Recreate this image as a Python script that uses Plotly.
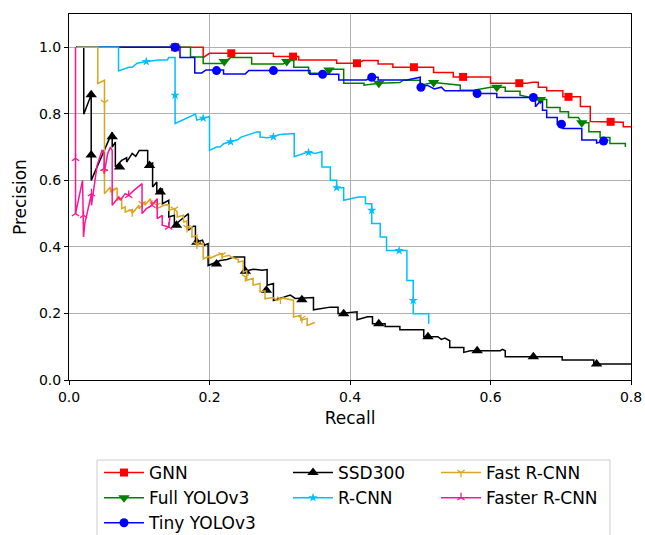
import plotly.graph_objects as go

# ---------------- data (recall, precision) ----------------
names = ["GNN", "Full YOLOv3", "Tiny YOLOv3", "SSD300", "R-CNN", "Fast R-CNN", "Faster R-CNN"]
colors = ["#ff0000", "#008000", "#0000ff", "#000000", "#00bfff", "#daa520", "#ff1493"]
symbols = ["square", "triangle-down", "circle", "triangle-up", "star", "y-down", "y-up"]

gnn_recall = [0.010, 0.191, 0.191, 0.200, 0.291, 0.291, 0.327, 0.327, 0.381, 0.381,
              0.410, 0.419, 0.440, 0.440, 0.461, 0.461, 0.519, 0.519, 0.547, 0.547,
              0.600, 0.600, 0.652, 0.660, 0.668, 0.668, 0.680, 0.680, 0.703, 0.703,
              0.728, 0.728, 0.742, 0.742, 0.789, 0.789, 0.800]
gnn_precision = [1.000, 1.000, 0.969, 0.982, 0.982, 0.972, 0.972, 0.962, 0.962, 0.952,
                 0.952, 0.960, 0.960, 0.950, 0.950, 0.940, 0.940, 0.924, 0.924, 0.911,
                 0.911, 0.892, 0.892, 0.895, 0.895, 0.880, 0.880, 0.869, 0.869, 0.851,
                 0.851, 0.822, 0.822, 0.777, 0.775, 0.761, 0.761]
gnn_mark_recall = [0.151, 0.231, 0.319, 0.410, 0.491, 0.561, 0.641, 0.711, 0.771]
gnn_mark_precision = [1.000, 0.982, 0.972, 0.952, 0.940, 0.911, 0.892, 0.851, 0.776]

yolo_recall = [0.010, 0.173, 0.173, 0.191, 0.191, 0.218, 0.230, 0.260, 0.260, 0.305,
               0.312, 0.320, 0.320, 0.341, 0.341, 0.367, 0.372, 0.391, 0.391, 0.420,
               0.420, 0.441, 0.471, 0.476, 0.500, 0.500, 0.519, 0.557, 0.557, 0.576,
               0.600, 0.621, 0.621, 0.642, 0.642, 0.671, 0.680, 0.680, 0.699, 0.699,
               0.711, 0.711, 0.725, 0.730, 0.740, 0.740, 0.756, 0.756, 0.770, 0.770,
               0.792, 0.792]
yolo_precision = [1.000, 1.000, 0.971, 0.971, 0.951, 0.951, 0.969, 0.969, 0.950, 0.950,
                  0.960, 0.960, 0.940, 0.940, 0.922, 0.922, 0.934, 0.934, 0.892, 0.892,
                  0.886, 0.892, 0.894, 0.901, 0.901, 0.886, 0.894, 0.886, 0.871, 0.871,
                  0.880, 0.880, 0.868, 0.868, 0.856, 0.843, 0.843, 0.819, 0.819, 0.806,
                  0.806, 0.789, 0.789, 0.773, 0.773, 0.746, 0.746, 0.729, 0.729, 0.711,
                  0.711, 0.700]
yolo_mark_recall = [0.151, 0.221, 0.310, 0.370, 0.441, 0.519, 0.609, 0.671, 0.730]
yolo_mark_precision = [1.000, 0.957, 0.957, 0.932, 0.892, 0.894, 0.880, 0.843, 0.773]

tiny_recall = [0.010, 0.158, 0.158, 0.179, 0.179, 0.189, 0.195, 0.220, 0.220, 0.251,
               0.256, 0.343, 0.343, 0.384, 0.384, 0.423, 0.431, 0.440, 0.440, 0.481,
               0.500, 0.500, 0.510, 0.520, 0.530, 0.535, 0.576, 0.576, 0.609, 0.609,
               0.664, 0.664, 0.670, 0.674, 0.674, 0.680, 0.680, 0.695, 0.695, 0.703,
               0.703, 0.730, 0.730, 0.751, 0.751, 0.768]
tiny_precision = [1.000, 1.000, 0.969, 0.969, 0.923, 0.923, 0.932, 0.932, 0.920, 0.920,
                  0.930, 0.930, 0.919, 0.919, 0.902, 0.902, 0.910, 0.910, 0.902, 0.902,
                  0.910, 0.880, 0.886, 0.875, 0.880, 0.869, 0.869, 0.861, 0.861, 0.849,
                  0.849, 0.821, 0.836, 0.836, 0.811, 0.811, 0.789, 0.789, 0.769, 0.769,
                  0.756, 0.756, 0.721, 0.721, 0.712, 0.721]
tiny_mark_recall = [0.151, 0.210, 0.291, 0.361, 0.431, 0.501, 0.581, 0.661, 0.701, 0.761]
tiny_mark_precision = [1.000, 0.930, 0.930, 0.919, 0.910, 0.880, 0.861, 0.849, 0.769, 0.718]

ssd_recall = [0.010, 0.021, 0.021, 0.0316, 0.0316, 0.0615, 0.0615, 0.066, 0.066, 0.075,
              0.082, 0.082, 0.090, 0.095, 0.100, 0.112, 0.112, 0.119, 0.119, 0.125,
              0.125, 0.133, 0.133, 0.142, 0.142, 0.150, 0.150, 0.158, 0.170, 0.170,
              0.177, 0.180, 0.180, 0.190, 0.193, 0.198, 0.198, 0.215, 0.225, 0.235,
              0.250, 0.250, 0.262, 0.275, 0.282, 0.282, 0.291, 0.291, 0.315, 0.322,
              0.332, 0.348, 0.348, 0.372, 0.383, 0.383, 0.410, 0.410, 0.425, 0.432,
              0.432, 0.450, 0.450, 0.471, 0.471, 0.505, 0.505, 0.525, 0.530, 0.535,
              0.542, 0.542, 0.562, 0.562, 0.571, 0.614, 0.617, 0.621, 0.621, 0.702,
              0.702, 0.747, 0.747, 0.800]
ssd_precision = [1.000, 1.000, 0.799, 0.857, 0.600, 0.745, 0.700, 0.715, 0.640, 0.660,
                 0.668, 0.655, 0.681, 0.672, 0.690, 0.690, 0.645, 0.652, 0.580, 0.595,
                 0.565, 0.575, 0.530, 0.540, 0.490, 0.495, 0.465, 0.478, 0.500, 0.450,
                 0.462, 0.462, 0.414, 0.420, 0.405, 0.410, 0.344, 0.359, 0.362, 0.370,
                 0.370, 0.327, 0.333, 0.330, 0.332, 0.285, 0.290, 0.239, 0.255, 0.245,
                 0.246, 0.248, 0.211, 0.219, 0.219, 0.199, 0.205, 0.181, 0.190, 0.190,
                 0.169, 0.169, 0.161, 0.161, 0.151, 0.151, 0.130, 0.130, 0.122, 0.126,
                 0.118, 0.098, 0.098, 0.083, 0.088, 0.088, 0.092, 0.088, 0.070, 0.070,
                 0.060, 0.060, 0.048, 0.048]
ssd_mark_recall = [0.0316, 0.0316, 0.0615, 0.072, 0.1146, 0.130, 0.153, 0.182, 0.210,
                   0.251, 0.281, 0.3315, 0.391, 0.441, 0.511, 0.581, 0.661, 0.751]
ssd_mark_precision = [0.857, 0.676, 0.731, 0.640, 0.645, 0.565, 0.465, 0.414, 0.349,
                      0.327, 0.270, 0.241, 0.199, 0.169, 0.130, 0.088, 0.070, 0.048]

rcnn_recall = [0.010, 0.0705, 0.0705, 0.085, 0.090, 0.097, 0.110, 0.128, 0.140, 0.142,
               0.151, 0.151, 0.180, 0.182, 0.200, 0.200, 0.210, 0.215, 0.220, 0.230,
               0.240, 0.245, 0.255, 0.267, 0.272, 0.272, 0.282, 0.291, 0.300, 0.3206,
               0.3206, 0.341, 0.350, 0.360, 0.360, 0.372, 0.372, 0.381, 0.381, 0.391,
               0.391, 0.412, 0.422, 0.422, 0.431, 0.431, 0.443, 0.443, 0.452, 0.452,
               0.481, 0.481, 0.490, 0.490, 0.512, 0.512]
rcnn_precision = [1.000, 1.000, 0.929, 0.940, 0.940, 0.952, 0.957, 0.962, 0.962, 0.969,
                  0.969, 0.771, 0.799, 0.781, 0.792, 0.690, 0.700, 0.700, 0.710, 0.716,
                  0.722, 0.730, 0.736, 0.745, 0.745, 0.730, 0.728, 0.731, 0.738, 0.741,
                  0.671, 0.686, 0.681, 0.686, 0.640, 0.640, 0.600, 0.600, 0.578, 0.578,
                  0.540, 0.550, 0.550, 0.530, 0.530, 0.470, 0.470, 0.430, 0.430, 0.389,
                  0.389, 0.299, 0.299, 0.199, 0.199, 0.169]
rcnn_mark_recall = [0.110, 0.151, 0.191, 0.230, 0.291, 0.341, 0.381, 0.431, 0.470, 0.490]
rcnn_mark_precision = [0.957, 0.856, 0.787, 0.716, 0.731, 0.684, 0.578, 0.510, 0.389, 0.239]

fast_recall = [0.0117, 0.041, 0.041, 0.0497, 0.0505, 0.0505, 0.059, 0.059, 0.0686, 0.0686,
               0.075, 0.075, 0.080, 0.080, 0.090, 0.090, 0.0995, 0.0995, 0.108, 0.108,
               0.116, 0.116, 0.125, 0.125, 0.135, 0.142, 0.142, 0.150, 0.154, 0.154,
               0.163, 0.163, 0.168, 0.168, 0.175, 0.175, 0.182, 0.182, 0.191, 0.191,
               0.200, 0.200, 0.210, 0.218, 0.218, 0.228, 0.232, 0.241, 0.241, 0.248,
               0.248, 0.253, 0.253, 0.262, 0.262, 0.272, 0.272, 0.279, 0.279, 0.290,
               0.296, 0.305, 0.310, 0.316, 0.3196, 0.3196, 0.330, 0.330, 0.339, 0.339,
               0.350]
fast_precision = [1.000, 1.000, 0.891, 0.901, 0.901, 0.560, 0.580, 0.565, 0.577, 0.540,
                  0.548, 0.515, 0.520, 0.505, 0.512, 0.500, 0.525, 0.515, 0.535, 0.525,
                  0.545, 0.530, 0.535, 0.515, 0.525, 0.527, 0.510, 0.515, 0.505, 0.490,
                  0.495, 0.475, 0.478, 0.455, 0.460, 0.430, 0.435, 0.405, 0.410, 0.364,
                  0.372, 0.365, 0.375, 0.380, 0.370, 0.375, 0.368, 0.362, 0.354, 0.358,
                  0.324, 0.328, 0.300, 0.305, 0.285, 0.290, 0.265, 0.268, 0.244, 0.248,
                  0.239, 0.246, 0.244, 0.240, 0.240, 0.189, 0.195, 0.180, 0.185, 0.164,
                  0.173]
fast_mark_recall = [0.0505, 0.0505, 0.0615, 0.090, 0.104, 0.125, 0.150, 0.168, 0.182,
                    0.218, 0.251, 0.301, 0.3315]
fast_mark_precision = [0.834, 0.625, 0.570, 0.505, 0.530, 0.525, 0.513, 0.458, 0.408,
                       0.376, 0.310, 0.243, 0.185]

faster_recall = [0.0093, 0.0093, 0.0193, 0.0207, 0.0225, 0.032, 0.032, 0.040, 0.047, 0.050,
                 0.050, 0.055, 0.059, 0.0615, 0.0615, 0.071, 0.073, 0.080, 0.085, 0.0924,
                 0.104, 0.104, 0.110, 0.118, 0.1256, 0.1256, 0.1327, 0.1327, 0.142, 0.1437]
faster_precision = [1.000, 0.500, 0.600, 0.430, 0.470, 0.560, 0.525, 0.645, 0.690, 0.683,
                    0.620, 0.680, 0.700, 0.690, 0.525, 0.550, 0.540, 0.560, 0.555, 0.570,
                    0.590, 0.500, 0.515, 0.525, 0.545, 0.485, 0.495, 0.465, 0.460, 0.490]
faster_mark_recall = [0.0093, 0.0093, 0.0207, 0.032, 0.050, 0.085, 0.118, 0.142]
faster_mark_precision = [0.666, 0.500, 0.495, 0.560, 0.636, 0.555, 0.525, 0.460]

x_ticks = [0.0, 0.2, 0.4, 0.6, 0.8]
y_ticks = [0.0, 0.2, 0.4, 0.6, 0.8, 1.0]

series = [
    (gnn_recall, gnn_precision, gnn_mark_recall, gnn_mark_precision),
    (yolo_recall, yolo_precision, yolo_mark_recall, yolo_mark_precision),
    (tiny_recall, tiny_precision, tiny_mark_recall, tiny_mark_precision),
    (ssd_recall, ssd_precision, ssd_mark_recall, ssd_mark_precision),
    (rcnn_recall, rcnn_precision, rcnn_mark_recall, rcnn_mark_precision),
    (fast_recall, fast_precision, fast_mark_recall, fast_mark_precision),
    (faster_recall, faster_precision, faster_mark_recall, faster_mark_precision),
]
marker_sizes = [8, 10, 9, 10, 7, 6, 6]
legend_of = ["legend", "legend", "legend", "legend2", "legend2", "legend3", "legend3"]

FONT = "DejaVu Sans"
fig = go.Figure()


def marker_style(i):
    c = colors[i]
    if symbols[i] in ("y-down", "y-up"):
        return dict(symbol=symbols[i], size=marker_sizes[i], color=c, line=dict(width=1.3, color=c))
    return dict(symbol=symbols[i], size=marker_sizes[i], color=c, line=dict(width=0))


for i, (rx, py, mx, my) in enumerate(series):
    c = colors[i]
    fig.add_trace(go.Scatter(x=rx, y=py, mode="lines", line=dict(color=c, width=1.5),
                             showlegend=False, legendgroup=names[i], hoverinfo="skip"))
    fig.add_trace(go.Scatter(x=mx, y=my, mode="markers", marker=marker_style(i),
                             showlegend=False, legendgroup=names[i]))
    fig.add_trace(go.Scatter(x=[None], y=[None], mode="lines+markers", name=names[i],
                             line=dict(color=c, width=1.5), marker=marker_style(i),
                             legendgroup=names[i], legend=legend_of[i], showlegend=True))

W, H = 645, 535
leg_top = (H - 455) / H
leg_common = dict(bgcolor="rgba(0,0,0,0)", borderwidth=0, orientation="v",
                  xref="container", yref="container", itemwidth=40,
                  xanchor="left", yanchor="top", tracegroupgap=0,
                  font=dict(family=FONT, size=17, color="black"))
fig.update_layout(
    width=W, height=H,
    margin=dict(l=69, r=14, t=14, b=155, autoexpand=False),
    paper_bgcolor="white", plot_bgcolor="white",
    font=dict(family=FONT, color="black"),
    legend=dict(x=99 / W, y=leg_top, **leg_common),
    legend2=dict(x=288 / W, y=leg_top, **leg_common),
    legend3=dict(x=436 / W, y=leg_top, **leg_common),
    shapes=[dict(type="rect", xref="paper", yref="paper", x0=(97 - 69) / 562,
                 x1=(610 - 69) / 562, y0=-0.47, y1=-0.2186,
                 line=dict(color="#cccccc", width=1),
                 fillcolor="rgba(255,255,255,0.8)", layer="below")],
    annotations=[dict(text="Precision", textangle=-90, xref="paper", yref="paper",
                      x=(20 - 69) / 562, y=0.5, xanchor="center", yanchor="middle",
                      showarrow=False, font=dict(family=FONT, size=17, color="black"))],
)
fig.update_xaxes(range=[0, 0.8], tickvals=x_ticks, ticktext=[f"{v:.1f}" for v in x_ticks],
                 showgrid=True, gridcolor="#b0b0b0", gridwidth=1, zeroline=False,
                 showline=True, linecolor="black", linewidth=1, mirror=True,
                 ticks="outside", ticklen=4, tickcolor="black",
                 tickfont=dict(family=FONT, size=14),
                 title=dict(text="Recall", font=dict(family=FONT, size=17), standoff=8))
fig.update_yaxes(range=[0, 1.1], tickvals=y_ticks, ticktext=[f"{v:.1f}" for v in y_ticks],
                 showgrid=True, gridcolor="#b0b0b0", gridwidth=1, zeroline=False,
                 showline=True, linecolor="black", linewidth=1, mirror=True,
                 ticks="outside", ticklen=4, tickcolor="black",
                 tickfont=dict(family=FONT, size=14))

fig.write_html("out.html", config={"displayModeBar": False},
               post_script="document.body.style.margin='0';")
